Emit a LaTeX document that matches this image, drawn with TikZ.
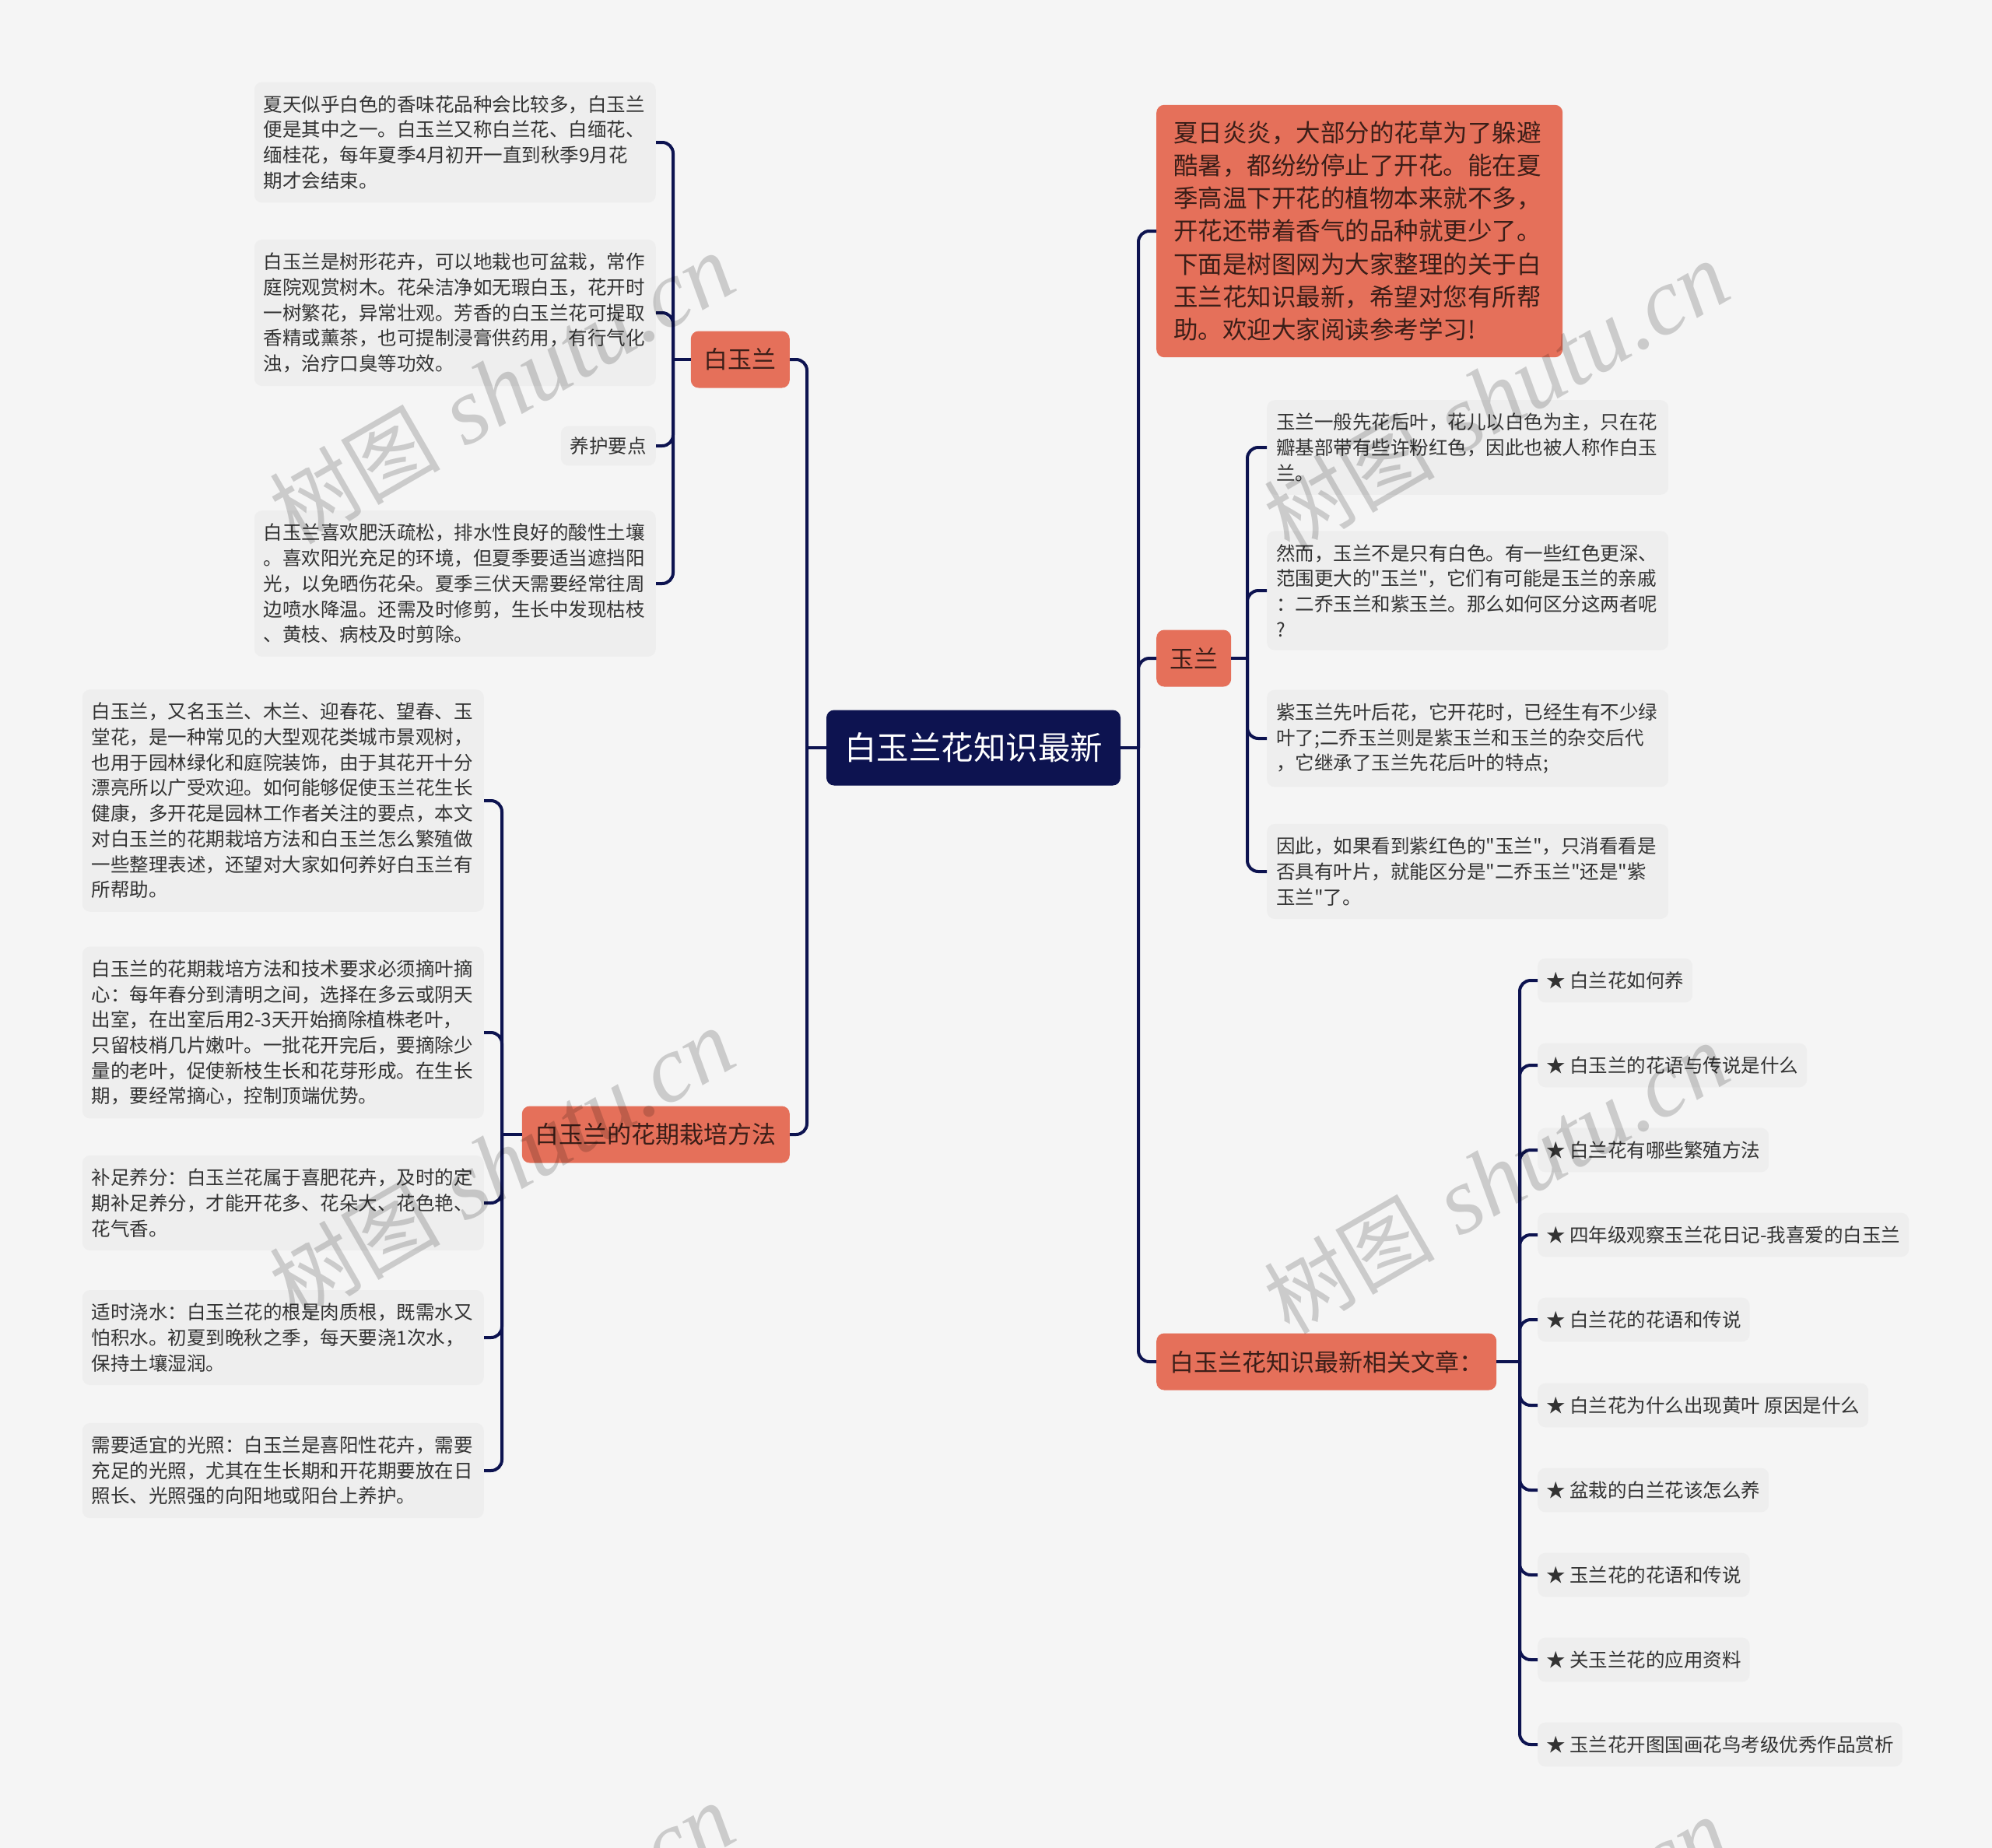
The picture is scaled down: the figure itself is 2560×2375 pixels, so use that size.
\documentclass[tikz,border=0pt]{standalone}
\usepackage{fontspec}
\newfontfamily\cjk{Noto Sans CJK SC}
\newfontfamily\wmlatin{Liberation Serif}
\definecolor{bg}{HTML}{F5F5F5}
\definecolor{leafbg}{HTML}{EEEEEE}
\definecolor{orng}{HTML}{E5705A}
\definecolor{navy}{HTML}{0D1350}
\definecolor{txt}{HTML}{333333}
\definecolor{otxt}{HTML}{3B1E18}
\tikzset{
  leaf/.style={fill=leafbg, rounded corners=10pt, inner xsep=12pt, inner ysep=17pt, text=txt,
    font=\cjk\fontsize{24.5}{32.7}\selectfont, align=left, text width=492pt},
  item/.style={fill=leafbg, rounded corners=10pt, inner xsep=11pt, inner ysep=17pt, text=txt,
    font=\cjk\fontsize{24.5}{32.7}\selectfont, anchor=west},
  branch/.style={fill=orng, rounded corners=10pt, inner xsep=17pt, inner ysep=0pt, minimum height=73pt,
    text=otxt, font=\cjk\fontsize{31}{40}\selectfont},
  link/.style={draw=navy, line width=4pt, rounded corners=14pt},
  wmark/.style={rotate=30, text=black, text opacity=0.17, inner sep=0pt}
}
\newcommand{\wmtext}{{\cjk\fontsize{110}{110}\selectfont 树图}\hspace{32pt}{\wmlatin\itshape\fontsize{122}{122}\selectfont shutu.cn}}
\begin{document}
\begin{tikzpicture}[x=1pt,y=-1pt]
\useasboundingbox (0,0) rectangle (2560,2375);
\fill[bg] (0,0) rectangle (2560,2375);

% center
\node[fill=navy, rounded corners=10pt, text=white, font=\cjk\fontsize{41.5}{50}\selectfont,
  minimum width=378pt, minimum height=97pt, inner sep=0pt] (c) at (1251,961) {白玉兰花知识最新};

% main branches
\node[branch, anchor=east] (b1) at (1015,462) {白玉兰};
\node[branch, anchor=east] (b2) at (1015,1458) {白玉兰的花期栽培方法};
\node[fill=orng, rounded corners=10pt, text=otxt, font=\cjk\fontsize{31.5}{42.2}\selectfont,
  text width=478pt, align=left, inner xsep=22pt, inner ysep=21pt, anchor=west] (r1) at (1486,297)
  {夏日炎炎，大部分的花草为了躲避\\酷暑，都纷纷停止了开花。能在夏\\季高温下开花的植物本来就不多，\\开花还带着香气的品种就更少了。\\下面是树图网为大家整理的关于白\\玉兰花知识最新，希望对您有所帮\\助。欢迎大家阅读参考学习!};
\node[branch, anchor=west] (r2) at (1486,846) {玉兰};
\node[branch, anchor=west] (r3) at (1486,1750) {白玉兰花知识最新相关文章：};

% left-top leaves
\node[leaf, anchor=east] (a1) at (843,183) {夏天似乎白色的香味花品种会比较多，白玉兰\\便是其中之一。白玉兰又称白兰花、白缅花、\\缅桂花，每年夏季4月初开一直到秋季9月花\\期才会结束。};
\node[leaf, anchor=east] (a2) at (843,402) {白玉兰是树形花卉，可以地栽也可盆栽，常作\\庭院观赏树木。花朵洁净如无瑕白玉，花开时\\一树繁花，异常壮观。芳香的白玉兰花可提取\\香精或薰茶，也可提制浸膏供药用，有行气化\\浊，治疗口臭等功效。};
\node[fill=leafbg, rounded corners=10pt, inner xsep=12pt, inner ysep=14pt, text=txt,
  font=\cjk\fontsize{24.5}{32.7}\selectfont, anchor=east] (a3) at (843,573) {养护要点};
\node[leaf, anchor=east] (a4) at (843,750) {白玉兰喜欢肥沃疏松，排水性良好的酸性土壤\\。喜欢阳光充足的环境，但夏季要适当遮挡阳\\光，以免晒伤花朵。夏季三伏天需要经常往周\\边喷水降温。还需及时修剪，生长中发现枯枝\\、黄枝、病枝及时剪除。};

% left-bottom leaves
\node[leaf, anchor=east] (e1) at (622,1029) {白玉兰，又名玉兰、木兰、迎春花、望春、玉\\堂花，是一种常见的大型观花类城市景观树，\\也用于园林绿化和庭院装饰，由于其花开十分\\漂亮所以广受欢迎。如何能够促使玉兰花生长\\健康，多开花是园林工作者关注的要点，本文\\对白玉兰的花期栽培方法和白玉兰怎么繁殖做\\一些整理表述，还望对大家如何养好白玉兰有\\所帮助。};
\node[leaf, anchor=east] (e2) at (622,1327) {白玉兰的花期栽培方法和技术要求必须摘叶摘\\心：每年春分到清明之间，选择在多云或阴天\\出室，在出室后用2-3天开始摘除植株老叶，\\只留枝梢几片嫩叶。一批花开完后，要摘除少\\量的老叶，促使新枝生长和花芽形成。在生长\\期，要经常摘心，控制顶端优势。};
\node[leaf, anchor=east] (e3) at (622,1546) {补足养分：白玉兰花属于喜肥花卉，及时的定\\期补足养分，才能开花多、花朵大、花色艳、\\花气香。};
\node[leaf, anchor=east] (e4) at (622,1719) {适时浇水：白玉兰花的根是肉质根，既需水又\\怕积水。初夏到晚秋之季，每天要浇1次水，\\保持土壤湿润。};
\node[leaf, anchor=east] (e5) at (622,1890) {需要适宜的光照：白玉兰是喜阳性花卉，需要\\充足的光照，尤其在生长期和开花期要放在日\\照长、光照强的向阳地或阳台上养护。};

% right 玉兰 leaves
\node[leaf, anchor=west] (j1) at (1628,575) {玉兰一般先花后叶，花儿以白色为主，只在花\\瓣基部带有些许粉红色，因此也被人称作白玉\\兰。};
\node[leaf, anchor=west] (j2) at (1628,759) {然而，玉兰不是只有白色。有一些红色更深、\\范围更大的"玉兰"，它们有可能是玉兰的亲戚\\：二乔玉兰和紫玉兰。那么如何区分这两者呢\\?};
\node[leaf, anchor=west] (j3) at (1628,949) {紫玉兰先叶后花，它开花时，已经生有不少绿\\叶了;二乔玉兰则是紫玉兰和玉兰的杂交后代\\，它继承了玉兰先花后叶的特点;};
\node[leaf, anchor=west] (j4) at (1628,1120) {因此，如果看到紫红色的"玉兰"，只消看看是\\否具有叶片，就能区分是"二乔玉兰"还是"紫\\玉兰"了。};

% related articles
\node[item] (l1) at (1976,1260) {★ 白兰花如何养};
\node[item] (l2) at (1976,1369) {★ 白玉兰的花语与传说是什么};
\node[item] (l3) at (1976,1478) {★ 白兰花有哪些繁殖方法};
\node[item] (l4) at (1976,1587) {★ 四年级观察玉兰花日记-我喜爱的白玉兰};
\node[item] (l5) at (1976,1696) {★ 白兰花的花语和传说};
\node[item] (l6) at (1976,1806) {★ 白兰花为什么出现黄叶 原因是什么};
\node[item] (l7) at (1976,1915) {★ 盆栽的白兰花该怎么养};
\node[item] (l8) at (1976,2024) {★ 玉兰花的花语和传说};
\node[item] (l9) at (1976,2133) {★ 关玉兰花的应用资料};
\node[item] (l10) at (1976,2242) {★ 玉兰花开图国画花鸟考级优秀作品赏析};

% junctions
\coordinate (jcL) at (1037,961);
\coordinate (jcR) at (1463,961);
\coordinate (jb1) at (865,462);
\coordinate (jb2) at (645,1458);
\coordinate (jr2) at (1603,846);
\coordinate (jr3) at (1953,1750);

% connectors
\draw[link] (c.west) -- (jcL);
\draw[link] (jcL) |- (b1.east);
\draw[link] (jcL) |- (b2.east);
\draw[link] (c.east) -- (jcR);
\draw[link] (jcR) |- (r1.west);
\draw[link] (jcR) |- (r2.west);
\draw[link] (jcR) |- (r3.west);
\draw[link] (b1.west) -- (jb1);
\foreach \n in {a1,a2,a3,a4} \draw[link] (jb1) |- (\n.east);
\draw[link] (b2.west) -- (jb2);
\foreach \n in {e1,e2,e3,e4,e5} \draw[link] (jb2) |- (\n.east);
\draw[link] (r2.east) -- (jr2);
\foreach \n in {j1,j2,j3,j4} \draw[link] (jr2) |- (\n.west);
\draw[link] (r3.east) -- (jr3);
\foreach \n in {l1,l2,l3,l4,l5,l6,l7,l8,l9,l10} \draw[link] (jr3) |- (\n.west);

% watermarks
\begin{scope}
\clip (0,0) rectangle (2560,2375);
\node[wmark] (w1) at (645,500) {\wmtext};
\node[wmark] (w2) at (1923,510) {\wmtext};
\node[wmark] (w3) at (645,1496) {\wmtext};
\node[wmark] (w4) at (1923,1515) {\wmtext};
\node[wmark] (w5) at (645,2492) {\wmtext};
\node[wmark] (w6) at (1923,2510) {\wmtext};
\end{scope}
\end{tikzpicture}
\end{document}
